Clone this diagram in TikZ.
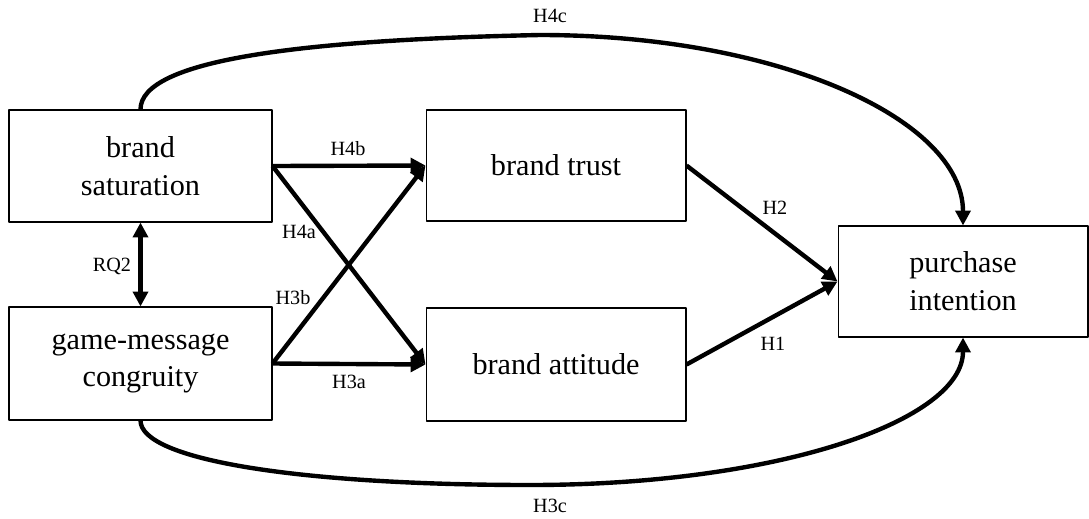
\documentclass[tikz,border=0pt]{standalone}
\usepackage{fontspec}
\setmainfont{Liberation Serif}
\usetikzlibrary{arrows.meta}

\begin{document}
\begin{tikzpicture}[x=0.02cm,y=-0.02cm,line join=round,
  >={Triangle[length=8.5pt,width=8.5pt]},
  box/.style={draw,line width=0.6pt,minimum width=5.26cm,minimum height=2.24cm,
    inner sep=0pt,align=center,font=\fontsize{17.2}{21.6}\selectfont},
  link/.style={line width=2.5pt,->},
  hyp/.style={inner sep=1pt,font=\fontsize{11.5}{13}\selectfont}]
  \useasboundingbox (0,0) rectangle (1089,518);
  % constructs
  \node[box] (sat) at (140.5,166) {brand\\saturation};
  \node[box,minimum height=2.26cm] (gmc) at (140.5,363.5) {game-message\\congruity};
  \node[box,minimum width=5.2cm,minimum height=2.22cm] (trust) at (556,165.5) {brand trust};
  \node[box,minimum width=5.2cm,minimum height=2.26cm] (att) at (556,364.5) {brand attitude};
  \node[box,minimum width=5.0cm,minimum height=2.22cm] (pur) at (963,281.5) {purchase\\intention};
  % paths
  \draw[link] (sat.east) -- (trust.west);
  \draw[link] (sat.east) -- (att.west);
  \draw[link] (gmc.east) -- (trust.west);
  \draw[link] (gmc.east) -- (att.west);
  \draw[link] (trust.east) -- (pur.west);
  \draw[link] (att.east) -- (pur.west);
  \draw[link,<->] (sat.south) -- (gmc.north);
  \coordinate (arctop) at (540,35);
  \coordinate (arcbot) at (530,485);
  \draw[link] (sat.north) .. controls (140.5,60) and (300,40) .. (arctop)
    .. controls (780,35) and (963,120) .. (pur.north);
  \draw[link] (gmc.south) .. controls (140.5,460) and (300,485) .. (arcbot)
    .. controls (780,485) and (963,420) .. (pur.south);
  % labels
  \node[hyp] (h4b) at (348,149) {H4b};
  \node[hyp] (h4a) at (299,232) {H4a};
  \node[hyp] (h3b) at (293,298) {H3b};
  \node[hyp] (h3a) at (349,382) {H3a};
  \node[hyp] (h2) at (775,208) {H2};
  \node[hyp] (h1) at (773,344) {H1};
  \node[hyp] (rq2) at (112,266) {RQ2};
  \node[hyp] (h4c) at (550,16) {H4c};
  \node[hyp] (h3c) at (550,506) {H3c};
\end{tikzpicture}
\end{document}
